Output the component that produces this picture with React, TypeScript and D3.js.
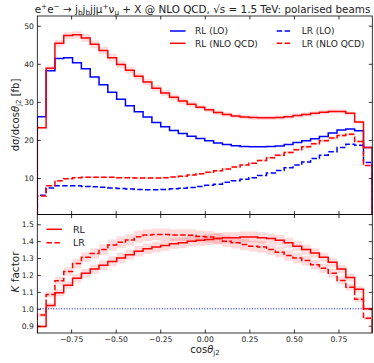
import React, { useEffect, useRef } from "react";
import * as d3 from "d3";

// histogram range in cos(theta_j2), 38 equal bins
const binLow = -0.9397;
const binHigh = 0.9397;

// dsigma/dcos [fb], one value per bin
const rlLO = [26.1, 38.2, 41.4, 41.6, 40.3, 38.7, 36.5, 34.5, 32.5, 30.7, 29.0, 27.4, 26.0, 24.6, 23.5, 22.5, 21.7, 21.0, 20.4, 19.8, 19.2, 18.8, 18.5, 18.3, 18.2, 18.2, 18.3, 18.4, 18.8, 19.3, 19.8, 20.3, 20.9, 21.8, 22.6, 22.9, 22.4, 18.0];
const rlNLO = [23.2, 38.8, 45.4, 47.4, 47.6, 46.8, 45.1, 43.5, 41.6, 39.8, 38.3, 36.7, 35.2, 33.6, 32.3, 31.2, 30.2, 29.4, 28.6, 27.9, 27.2, 26.7, 26.3, 26.0, 25.9, 25.8, 25.8, 25.9, 26.1, 26.4, 26.7, 27.0, 27.3, 27.5, 27.5, 27.0, 24.7, 18.0];
const lrLO = [5.5, 7.4, 8.0, 8.0, 8.0, 7.8, 7.7, 7.55, 7.4, 7.25, 7.15, 7.0, 6.95, 6.95, 7.0, 7.2, 7.3, 7.5, 7.8, 8.1, 8.4, 8.9, 9.3, 9.7, 10.1, 10.7, 11.3, 12.0, 12.7, 13.4, 14.2, 15.1, 16.0, 16.9, 18.0, 18.9, 18.6, 14.1];
const lrNLO = [5.3, 8.0, 9.3, 9.8, 10.1, 10.2, 10.2, 10.2, 10.2, 10.1, 10.1, 10.0, 10.0, 10.0, 10.1, 10.3, 10.5, 10.8, 11.1, 11.5, 11.9, 12.4, 12.9, 13.4, 13.9, 14.6, 15.3, 16.0, 16.7, 17.4, 18.2, 19.0, 19.8, 20.5, 21.2, 21.5, 19.6, 13.3];

// K factors and their scale-uncertainty half widths
const kRL = [0.895, 1.02, 1.095, 1.14, 1.18, 1.21, 1.235, 1.258, 1.28, 1.3, 1.32, 1.34, 1.355, 1.365, 1.375, 1.385, 1.39, 1.4, 1.405, 1.41, 1.415, 1.42, 1.42, 1.425, 1.425, 1.42, 1.415, 1.405, 1.39, 1.37, 1.35, 1.33, 1.305, 1.275, 1.235, 1.185, 1.115, 1.0];
const kLR = [0.963, 1.085, 1.166, 1.22, 1.268, 1.305, 1.327, 1.35, 1.377, 1.394, 1.407, 1.426, 1.436, 1.44, 1.44, 1.436, 1.436, 1.435, 1.428, 1.425, 1.415, 1.4, 1.39, 1.38, 1.37, 1.365, 1.35, 1.335, 1.315, 1.3, 1.285, 1.26, 1.24, 1.21, 1.168, 1.128, 1.056, 0.944];
const kRLErr = [0.01, 0.015, 0.02, 0.022, 0.024, 0.026, 0.027, 0.028, 0.029, 0.03, 0.03, 0.031, 0.031, 0.032, 0.032, 0.032, 0.032, 0.032, 0.032, 0.032, 0.032, 0.032, 0.032, 0.032, 0.032, 0.032, 0.031, 0.031, 0.03, 0.03, 0.029, 0.028, 0.027, 0.026, 0.024, 0.022, 0.018, 0.01];
const kLRErr = [0.012, 0.018, 0.022, 0.025, 0.028, 0.03, 0.031, 0.032, 0.033, 0.034, 0.034, 0.035, 0.035, 0.035, 0.035, 0.035, 0.035, 0.035, 0.035, 0.035, 0.035, 0.034, 0.034, 0.034, 0.033, 0.033, 0.032, 0.032, 0.031, 0.03, 0.029, 0.028, 0.027, 0.025, 0.023, 0.02, 0.016, 0.01];

const xTicks = [-0.75, -0.5, -0.25, 0, 0.25, 0.5, 0.75];
const yTicksTop = [10, 20, 30, 40, 50];
const yTicksK = [0.9, 1.0, 1.1, 1.2, 1.3, 1.4, 1.5];

const FONT = "DejaVu Sans";

const App = () => {
  const svgRef = useRef<SVGSVGElement>(null);

  useEffect(() => {
    const width = 374;
    const height = 363;
    const left = 37.3;
    const right = 372.3;
    const top1 = 16;
    const mid = 214.6;
    const bottom2 = 333;

    const svg = d3.select(svgRef.current).attr("width", width).attr("height", height);
    svg.selectAll("*").remove();

    const n = rlLO.length;
    const edges = d3.range(n + 1).map((i) => binLow + ((binHigh - binLow) * i) / n);

    const x = d3.scaleLinear().domain([binLow, binHigh]).range([left, right]);
    const yTop = d3.scaleLinear().domain([0.4, 52.55]).range([mid, top1]);
    const yK = d3.scaleLinear().domain([0.857, 1.557]).range([bottom2, mid]);

    const defs = svg.append("defs");
    defs.append("clipPath").attr("id", "clipTop").append("rect")
      .attr("x", left).attr("y", top1).attr("width", right - left).attr("height", mid - top1);
    defs.append("clipPath").attr("id", "clipBot").append("rect")
      .attr("x", left).attr("y", mid).attr("width", right - left).attr("height", bottom2 - mid);

    // step outline down to baseline at both ends, like histtype="step"
    const stepPath = (vals: number[], y: d3.ScaleLinear<number, number>) => {
      const pts: [number, number][] = [[edges[0], 0]];
      vals.forEach((v, i) => {
        pts.push([edges[i], v]);
        pts.push([edges[i + 1], v]);
      });
      pts.push([edges[n], 0]);
      return d3.line<[number, number]>().x((d) => x(d[0])).y((d) => y(d[1]))(pts);
    };

    const bandPath = (lo: number[], hi: number[], y: d3.ScaleLinear<number, number>) => {
      const pts: { e: number; lo: number; hi: number }[] = [];
      lo.forEach((v, i) => {
        pts.push({ e: edges[i], lo: v, hi: hi[i] });
        pts.push({ e: edges[i + 1], lo: v, hi: hi[i] });
      });
      return d3.area<{ e: number; lo: number; hi: number }>()
        .x((d) => x(d.e)).y0((d) => y(d.lo)).y1((d) => y(d.hi))(pts);
    };

    const blue = "#0000ff";
    const red = "#ff0000";
    const band = "rgba(255,0,0,0.14)";
    const dash = "5.5,2.4";

    // ---- top panel
    const gTop = svg.append("g").attr("clip-path", "url(#clipTop)");
    const rlRel = kRLErr.map((e, i) => e / kRL[i]);
    const lrRel = kLRErr.map((e, i) => e / kLR[i]);
    gTop.append("path").attr("d", bandPath(rlNLO.map((v, i) => v * (1 - rlRel[i])), rlNLO.map((v, i) => v * (1 + rlRel[i])), yTop)).attr("fill", band);
    gTop.append("path").attr("d", bandPath(lrNLO.map((v, i) => v * (1 - lrRel[i])), lrNLO.map((v, i) => v * (1 + lrRel[i])), yTop)).attr("fill", band);

    const lines: [number[], string, string | null][] = [
      [rlLO, blue, null],
      [rlNLO, red, null],
      [lrLO, blue, dash],
      [lrNLO, red, dash],
    ];
    lines.forEach(([vals, c, da]) => {
      gTop.append("path").attr("d", stepPath(vals, yTop)).attr("fill", "none")
        .attr("stroke", c).attr("stroke-width", 1.5).attr("stroke-dasharray", da);
    });

    // ---- bottom panel
    const gBot = svg.append("g").attr("clip-path", "url(#clipBot)");
    gBot.append("path").attr("d", bandPath(kRL.map((v, i) => v - kRLErr[i]), kRL.map((v, i) => v + kRLErr[i]), yK)).attr("fill", band);
    gBot.append("path").attr("d", bandPath(kLR.map((v, i) => v - kLRErr[i]), kLR.map((v, i) => v + kLRErr[i]), yK)).attr("fill", band);
    gBot.append("line").attr("x1", left).attr("x2", right).attr("y1", yK(1)).attr("y2", yK(1))
      .attr("stroke", blue).attr("stroke-width", 1).attr("stroke-dasharray", "1,1.65");
    gBot.append("path").attr("d", stepPath(kRL, yK)).attr("fill", "none").attr("stroke", red).attr("stroke-width", 1.5);
    gBot.append("path").attr("d", stepPath(kLR, yK)).attr("fill", "none").attr("stroke", red).attr("stroke-width", 1.5).attr("stroke-dasharray", dash);

    // ---- axes (ticks inward on all sides)
    const styleAxis = (g: d3.Selection<SVGGElement, unknown, null, undefined>) => {
      g.select(".domain").remove();
      g.selectAll("line").attr("stroke", "#000").attr("stroke-width", 0.8);
      g.selectAll("text").attr("font-family", FONT).attr("font-size", 7.6).attr("fill", "#222");
    };
    const tk = -3.5;
    const fmtK = d3.format(".1f");
    const fmtX = d3.format(".2f");

    svg.append("g").attr("transform", `translate(${left},0)`)
      .call(d3.axisLeft(yTop).tickValues(yTicksTop).tickSize(tk).tickPadding(3.5)).call(styleAxis);
    svg.append("g").attr("transform", `translate(${right},0)`)
      .call(d3.axisRight(yTop).tickValues(yTicksTop).tickSize(tk).tickFormat(() => "")).call(styleAxis);
    svg.append("g").attr("transform", `translate(0,${top1})`)
      .call(d3.axisTop(x).tickValues(xTicks).tickSize(tk).tickFormat(() => "")).call(styleAxis);
    svg.append("g").attr("transform", `translate(0,${mid})`)
      .call(d3.axisBottom(x).tickValues(xTicks).tickSize(tk).tickFormat(() => "")).call(styleAxis);

    svg.append("g").attr("transform", `translate(${left},0)`)
      .call(d3.axisLeft(yK).tickValues(yTicksK).tickSize(tk).tickPadding(3.5).tickFormat((d) => fmtK(d as number))).call(styleAxis);
    svg.append("g").attr("transform", `translate(${right},0)`)
      .call(d3.axisRight(yK).tickValues(yTicksK).tickSize(tk).tickFormat(() => "")).call(styleAxis);
    svg.append("g").attr("transform", `translate(0,${mid})`)
      .call(d3.axisTop(x).tickValues(xTicks).tickSize(tk).tickFormat(() => "")).call(styleAxis);
    svg.append("g").attr("transform", `translate(0,${bottom2})`)
      .call(d3.axisBottom(x).tickValues(xTicks).tickSize(tk).tickPadding(3.5).tickFormat((d) => fmtX(d as number))).call(styleAxis);

    // frames
    svg.append("rect").attr("x", left).attr("y", top1).attr("width", right - left).attr("height", mid - top1)
      .attr("fill", "none").attr("stroke", "#000").attr("stroke-width", 0.8);
    svg.append("rect").attr("x", left).attr("y", mid).attr("width", right - left).attr("height", bottom2 - mid)
      .attr("fill", "none").attr("stroke", "#000").attr("stroke-width", 0.8);

    // ---- legends
    const legTop: [string, string, string | null, number, number][] = [
      ["RL (LO)", blue, null, 170, 31],
      ["RL (NLO QCD)", red, null, 170, 43.3],
      ["LR (LO)", blue, dash, 276.7, 31],
      ["LR (NLO QCD)", red, dash, 276.7, 43.3],
    ];
    legTop.forEach(([label, c, da, lx, ly]) => {
      svg.append("line").attr("x1", lx).attr("x2", lx + 15.5).attr("y1", ly).attr("y2", ly)
        .attr("stroke", c).attr("stroke-width", 1.5).attr("stroke-dasharray", da);
      svg.append("text").attr("x", lx + 25).attr("y", ly + 3.3).attr("font-family", FONT)
        .attr("font-size", 9).attr("fill", "#222").text(label);
    });
    const legBot: [string, string | null, number][] = [
      ["RL", null, 229.3],
      ["LR", dash, 242.7],
    ];
    legBot.forEach(([label, da, ly]) => {
      svg.append("line").attr("x1", 46.5).attr("x2", 62).attr("y1", ly).attr("y2", ly)
        .attr("stroke", red).attr("stroke-width", 1.5).attr("stroke-dasharray", da);
      svg.append("text").attr("x", 73).attr("y", ly + 3.5).attr("font-family", FONT)
        .attr("font-size", 9.5).attr("fill", "#222").text(label);
    });

    // ---- title
    const title = svg.append("text").attr("x", 202.5).attr("y", 12.5).attr("text-anchor", "middle")
      .attr("font-family", FONT).attr("font-size", 10.4).attr("fill", "#222");
    const part = (t: string, dy = 0, small = false) =>
      title.append("tspan").attr("dy", dy).attr("font-size", small ? 7.3 : null).text(t);
    part("e");
    part("+", -3.8, true);
    part("e", 3.8);
    part("−", -3.8, true);
    part(" → j", 3.8);
    part("b", 2.2, true);
    part("j", -2.2);
    part("b", 2.2, true);
    part("jjμ", -2.2);
    part("+", -3.8, true);
    part("ν", 3.8);
    part("μ", 2.2, true);
    part(" + X @ NLO QCD, √s = 1.5 TeV: polarised beams", -2.2);

    // ---- axis labels
    const yl = svg.append("text").attr("transform", "translate(18.5,115) rotate(-90)").attr("text-anchor", "middle")
      .attr("font-family", FONT).attr("font-size", 10).attr("fill", "#222");
    yl.append("tspan").text("dσ/dcos");
    yl.append("tspan").attr("font-style", "italic").text("θ");
    yl.append("tspan").attr("font-size", 7).attr("dy", 2).text("j2");
    yl.append("tspan").attr("dy", -2).text(" [fb]");

    const kl = svg.append("text").attr("transform", "translate(18.5,272) rotate(-90)").attr("text-anchor", "middle")
      .attr("font-family", FONT).attr("font-size", 10.5).attr("fill", "#222");
    kl.append("tspan").attr("font-style", "italic").text("K");
    kl.append("tspan").text(" factor");

    const xl = svg.append("text").attr("x", 205).attr("y", 352.5).attr("text-anchor", "middle")
      .attr("font-family", FONT).attr("font-size", 10).attr("fill", "#222");
    xl.append("tspan").text("cos");
    xl.append("tspan").attr("font-style", "italic").text("θ");
    xl.append("tspan").attr("font-size", 7).attr("dy", 2).text("j2");
  }, []);

  return (
    <div>
      <svg ref={svgRef} style={{ position: "absolute", left: 0, top: 0, background: "#fff" }}></svg>
    </div>
  );
};

export default App;
